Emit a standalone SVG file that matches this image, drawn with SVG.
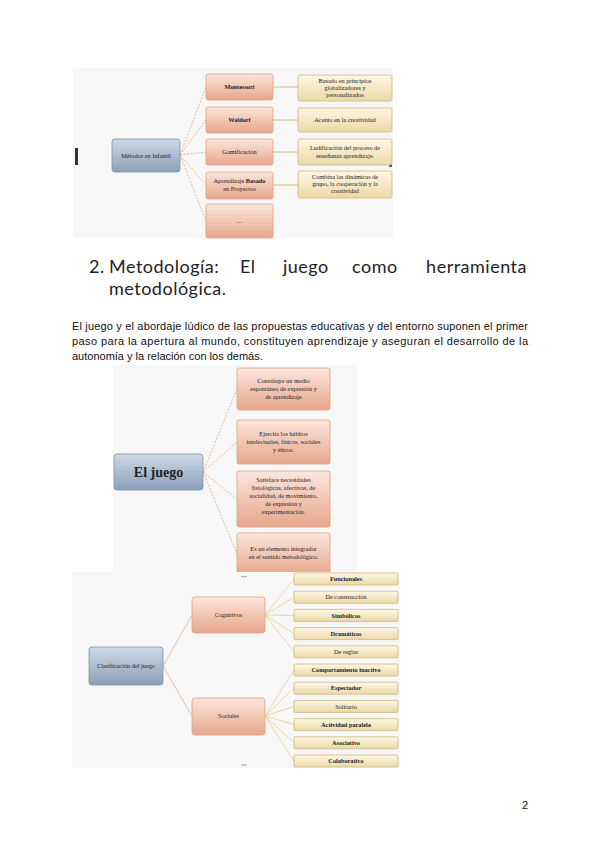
<svg xmlns="http://www.w3.org/2000/svg" width="600" height="848" viewBox="0 0 600 848">
<defs>
<linearGradient id="gBlue" x1="0" y1="0" x2="0" y2="1"><stop offset="0" stop-color="#cdd9e7"/><stop offset="1" stop-color="#8c9fb8"/></linearGradient>
<linearGradient id="gSal" x1="0" y1="0" x2="0" y2="1"><stop offset="0" stop-color="#fbe6dc"/><stop offset="1" stop-color="#e8a68a"/></linearGradient>
<linearGradient id="gTan" x1="0" y1="0" x2="0" y2="1"><stop offset="0" stop-color="#fdf7e4"/><stop offset="1" stop-color="#ecd9a6"/></linearGradient>
<clipPath id="clipBot"><rect x="72" y="572" width="328" height="196"/></clipPath>
<style>
.bg{fill:#f7f7f7}
.blue{fill:url(#gBlue);stroke:#8093ab;stroke-width:0.8}
.sal{fill:url(#gSal);stroke:#dca189;stroke-width:0.8}
.tan{fill:url(#gTan);stroke:#cdb780;stroke-width:0.8}
.dash{stroke:#e2a677;stroke-width:0.8;stroke-dasharray:2 1.5;fill:none}
.ol{stroke:#cbb760;stroke-width:0.9;fill:none}
.yl{stroke:#e3d08e;stroke-width:0.8;fill:none}
.or{stroke:#e6b491;stroke-width:0.8;fill:none}
.t{font-family:"Liberation Serif",serif;fill:#222;text-anchor:middle}
.s6{font-size:6.3px}
.s7{font-size:7px}
.b{font-weight:bold}
.h{font-family:"Lato","Open Sans",sans-serif;font-size:18px;letter-spacing:0.5px;fill:#222}
.p{font-family:"Liberation Sans",Arial,sans-serif;font-size:11px;fill:#111}
</style>
</defs>
<rect width="600" height="848" fill="#fff"/>

<!-- Top diagram -->
<g id="top-diagram">
<rect class="bg" x="73" y="68" width="320" height="170"/>
<rect x="75" y="148" width="3" height="17" fill="#333"/>
<rect x="389" y="148" width="3" height="19" fill="#555"/>
</g>
<g id="top-connectors">
<path class="dash" d="M180 155 L206 87 M180 155 L206 120 M180 155 L206 152 M180 155 L206 185 M180 155 L206 221"/>
<path class="ol" d="M273 87 H298 M273 120 H298 M273 152 H298 M273 185 H298"/>
</g>
<g id="n-metodos"><rect class="blue" x="112" y="139" width="68" height="33" rx="3"/><text class="t s6" x="146" y="158">Métodos en Infantil</text></g>
<g id="n-montessori"><rect class="sal" x="206" y="74" width="67" height="26" rx="2"/><text class="t s6 b" x="239.5" y="89">Montessori</text></g>
<g id="n-waldorf"><rect class="sal" x="206" y="107" width="67" height="26" rx="2"/><text class="t s6 b" x="239.5" y="122">Waldorf</text></g>
<g id="n-gamif"><rect class="sal" x="206" y="139" width="67" height="26" rx="2"/><text class="t s6" x="239.5" y="154">Gamificación</text></g>
<g id="n-abp"><rect class="sal" x="206" y="172" width="67" height="27" rx="2"/><text class="t s6" x="239.5" y="183">Aprendizaje <tspan class="b">Basado</tspan></text><text class="t s6" x="239.5" y="191">en Proyectos</text></g>
<g id="n-dots"><rect class="sal" x="206" y="204" width="67" height="34" rx="2"/><text class="t s6" x="239.5" y="223">…</text></g>
<g id="n-basado"><rect class="tan" x="298" y="75" width="94" height="26" rx="2"/><text class="t s6" x="345" y="83">Basado en principios</text><text class="t s6" x="345" y="90">globalizadores y</text><text class="t s6" x="345" y="97">personalizados</text></g>
<g id="n-acento"><rect class="tan" x="298" y="108" width="94" height="24" rx="2"/><text class="t s6" x="345" y="122">Acento en la creatividad</text></g>
<g id="n-ludif"><rect class="tan" x="298" y="139" width="94" height="26" rx="2"/><text class="t s6" x="345" y="150">Ludificación del proceso de</text><text class="t s6" x="345" y="158">enseñanza aprendizaje.</text></g>
<g id="n-combina"><rect class="tan" x="298" y="171" width="94" height="27" rx="2"/><text class="t s6" x="345" y="179">Combina las dinámicas de</text><text class="t s6" x="345" y="186">grupo, la cooperación y la</text><text class="t s6" x="345" y="193">creatividad</text></g>

<!-- Heading -->
<g id="heading">
<text class="h" x="89" y="273">2.</text>
<text class="h" x="109" y="273">Metodología:</text>
<text class="h" x="240" y="273">El</text>
<text class="h" x="283" y="273">juego</text>
<text class="h" x="352" y="273">como</text>
<text class="h" x="527" y="273" text-anchor="end">herramienta</text>
<text class="h" x="109" y="295">metodológica.</text>
</g>

<!-- Paragraph -->
<g id="paragraph">
<text class="p" x="72" y="330" textLength="456" lengthAdjust="spacing">El juego y el abordaje lúdico de las propuestas educativas y del entorno suponen el primer</text>
<text class="p" x="72" y="345" textLength="456" lengthAdjust="spacing">paso para la apertura al mundo, constituyen aprendizaje y aseguran el desarrollo de la</text>
<text class="p" x="72" y="360">autonomía y la relación con los demás.</text>
</g>

<!-- Middle diagram -->
<g id="mid-diagram"><rect class="bg" x="113" y="365" width="244" height="213"/></g>
<g id="mid-connectors">
<path class="dash" d="M203 472 L237 389 M203 472 L237 442 M203 472 L237 499 M203 472 L237 554"/>
</g>
<g id="n-eljuego"><rect class="blue" x="114" y="454" width="89" height="36" rx="3"/><text class="t b" style="font-size:14px" x="158.5" y="477">El juego</text></g>
<g id="n-constituye"><rect class="sal" x="237" y="368" width="93" height="42" rx="2"/><text class="t s6" x="283.5" y="383">Constituye un medio</text><text class="t s6" x="283.5" y="391">espontáneo de expresión y</text><text class="t s6" x="283.5" y="399">de aprendizaje</text></g>
<g id="n-ejercita"><rect class="sal" x="237" y="420" width="93" height="44" rx="2"/><text class="t s6" x="283.5" y="436">Ejercita los hábitos</text><text class="t s6" x="283.5" y="444">intelectuales, físicos, sociales</text><text class="t s6" x="283.5" y="452">y éticos.</text></g>
<g id="n-satisface"><rect class="sal" x="237" y="471" width="93" height="56" rx="2"/><text class="t s6" x="283.5" y="482">Satisface necesidades</text><text class="t s6" x="283.5" y="490">fisiológicas, afectivas, de</text><text class="t s6" x="283.5" y="498">socialidad, de movimiento,</text><text class="t s6" x="283.5" y="506">de expresión y</text><text class="t s6" x="283.5" y="514">experimentación.</text></g>
<g id="n-integrador"><rect class="sal" x="237" y="533" width="93" height="42" rx="2"/><text class="t s6" x="283.5" y="551">Es un elemento integrador</text><text class="t s6" x="283.5" y="559">en el sentido metodológico.</text></g>

<!-- Bottom diagram -->
<g id="bot-diagram" clip-path="url(#clipBot)">
<rect class="bg" x="72" y="572" width="328" height="196"/>
<path d="M241 576 q3 2 6 0" stroke="#888" stroke-width="0.8" fill="none"/>
<path d="M241 765 h6" stroke="#888" stroke-width="0.8" fill="none"/>
<g id="bot-connectors">
<path class="or" d="M163 666 L192 615 M163 666 L192 716"/>
<path class="yl" d="M265 615 L294 579 M265 615 L294 597.2 M265 615 L294 615.4 M265 615 L294 633.6 M265 615 L294 651.8"/>
<path class="yl" d="M265 716 L294 670 M265 716 L294 688.2 M265 716 L294 706.4 M265 716 L294 724.6 M265 716 L294 742.8 M265 716 L294 761"/>
</g>
<g id="n-clasif"><rect class="blue" x="89" y="647" width="74" height="38" rx="3"/><text class="t s6" x="126" y="668">Clasificación del juego</text></g>
<g id="n-cognitivos"><rect class="sal" x="192" y="597" width="73" height="36" rx="3"/><text class="t s6" x="228.5" y="617">Cognitivos</text></g>
<g id="n-sociales"><rect class="sal" x="192" y="698" width="73" height="37" rx="3"/><text class="t s6" x="228.5" y="718">Sociales</text></g>
<g id="n-funcionales"><rect class="tan" x="294" y="573" width="104" height="12" rx="1"/><text class="t s6 b" x="346" y="581">Funcionales</text></g>
<g id="n-construccion"><rect class="tan" x="294" y="591.2" width="104" height="12" rx="1"/><text class="t s6" x="346" y="599.4">De construcción</text></g>
<g id="n-simbolicos"><rect class="tan" x="294" y="609.4" width="104" height="12" rx="1"/><text class="t s6 b" x="346" y="617.6">Simbólicos</text></g>
<g id="n-dramaticos"><rect class="tan" x="294" y="627.6" width="104" height="12" rx="1"/><text class="t s6 b" x="346" y="635.8">Dramáticos</text></g>
<g id="n-reglas"><rect class="tan" x="294" y="645.8" width="104" height="12" rx="1"/><text class="t s6" x="346" y="654">De reglas</text></g>
<g id="n-inactivo"><rect class="tan" x="294" y="664" width="104" height="12" rx="1"/><text class="t s6 b" x="346" y="672.2">Comportamiento inactivo</text></g>
<g id="n-espectador"><rect class="tan" x="294" y="682.2" width="104" height="12" rx="1"/><text class="t s6 b" x="346" y="690.4">Espectador</text></g>
<g id="n-solitario"><rect class="tan" x="294" y="700.4" width="104" height="12" rx="1"/><text class="t s6" x="346" y="708.6">Solitario</text></g>
<g id="n-paralela"><rect class="tan" x="294" y="718.6" width="104" height="12" rx="1"/><text class="t s6 b" x="346" y="726.8">Actividad paralela</text></g>
<g id="n-asociativo"><rect class="tan" x="294" y="736.8" width="104" height="12" rx="1"/><text class="t s6 b" x="346" y="745">Asociativo</text></g>
<g id="n-colaborativo"><rect class="tan" x="294" y="755" width="104" height="12" rx="1"/><text class="t s6 b" x="346" y="763.2">Colaborativo</text></g>
</g>

<text id="page-number" class="p" x="522" y="809">2</text>
</svg>
